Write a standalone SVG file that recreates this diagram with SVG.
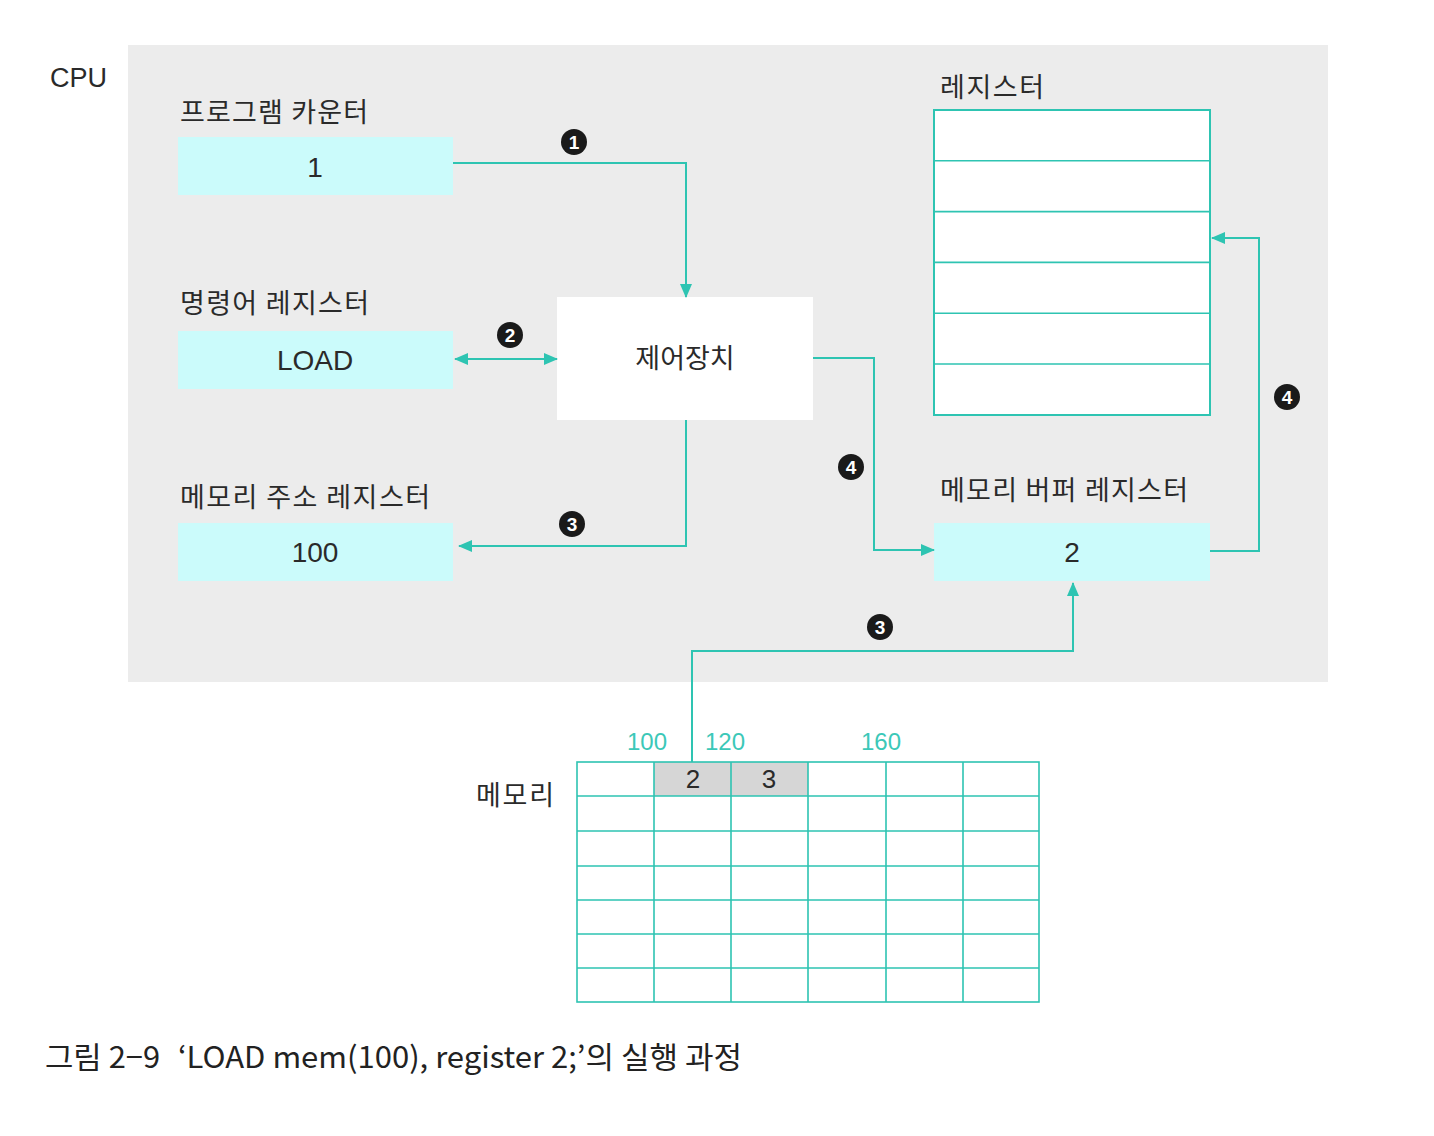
<svg xmlns="http://www.w3.org/2000/svg" width="1434" height="1136" viewBox="0 0 1434 1136">
<defs>
<marker id="ah" viewBox="0 0 14 12" refX="13" refY="6" markerWidth="14" markerHeight="12" markerUnits="userSpaceOnUse" orient="auto-start-reverse">
<path d="M0,0 L14,6 L0,12 Z" fill="#2ec4b2"/>
</marker>
<style>
.lbl{font-family:"Noto Sans CJK KR","Noto Sans",sans-serif;font-size:27px;fill:#2a2a2a}
.val{font-family:"Liberation Sans",Arial,sans-serif;font-size:28px;fill:#2a2a2a;text-anchor:middle}
.reg{fill:#cbfbfb}
.ln{fill:none;stroke:#2ec4b2;stroke-width:2}
.grid{fill:none;stroke:#2ec4b2;stroke-width:1.6}
.num{font-family:"Liberation Sans",Arial,sans-serif;font-size:19px;font-weight:bold;fill:#fff;text-anchor:middle}
.addr{font-family:"Liberation Sans",Arial,sans-serif;font-size:24px;fill:#3cc8b8;text-anchor:middle}
.cap{font-family:"Noto Sans CJK KR","Liberation Sans",sans-serif;font-size:30px;fill:#222}
</style>
</defs>
<rect width="1434" height="1136" fill="#fff"/>
<rect id="cpu" x="128" y="45" width="1200" height="637" fill="#ececec"/>
<text x="50" y="87" font-family="Liberation Sans,Arial,sans-serif" font-size="27" fill="#2a2a2a">CPU</text>

<g id="pc">
<text class="lbl" x="180" y="122" textLength="188">프로그램 카운터</text>
<rect class="reg" x="178" y="137" width="275" height="58"/>
<text class="val" x="315" y="177">1</text>
</g>
<g id="ir">
<text class="lbl" x="180" y="313" textLength="189">명령어 레지스터</text>
<rect class="reg" x="178" y="331" width="275" height="58"/>
<text class="val" x="315" y="370">LOAD</text>
</g>
<g id="mar">
<text class="lbl" x="180" y="507" textLength="250">메모리 주소 레지스터</text>
<rect class="reg" x="178" y="523" width="275" height="58"/>
<text class="val" x="315" y="562">100</text>
</g>
<g id="cu">
<rect x="557" y="297" width="256" height="123" fill="#fff"/>
<text class="lbl" x="685" y="368" text-anchor="middle" font-size="28">제어장치</text>
</g>
<g id="registers">
<text class="lbl" x="940" y="97" textLength="104">레지스터</text>
<rect x="934" y="110" width="276" height="305" fill="#fff" stroke="#2ec4b2" stroke-width="2"/>
<path class="grid" d="M934,160.8H1210M934,211.6H1210M934,262.4H1210M934,313.2H1210M934,364H1210"/>
</g>
<g id="mbr">
<text class="lbl" x="940" y="500" textLength="248">메모리 버퍼 레지스터</text>
<rect class="reg" x="934" y="523" width="276" height="58"/>
<text class="val" x="1072" y="562">2</text>
</g>
<g id="memory">
<text class="lbl" x="476" y="805" textLength="78">메모리</text>
<rect x="654" y="762" width="154" height="34" fill="#d6d6d6"/>
<rect x="577" y="762" width="462" height="240" class="grid"/>
<path class="grid" d="M654,762V1002M731,762V1002M808,762V1002M886,762V1002M963,762V1002M577,796H1039M577,831H1039M577,866H1039M577,900H1039M577,934H1039M577,968H1039"/>
<text x="693" y="788" font-family="Liberation Sans,Arial,sans-serif" font-size="26" fill="#2a2a2a" text-anchor="middle">2</text>
<text x="769" y="788" font-family="Liberation Sans,Arial,sans-serif" font-size="26" fill="#2a2a2a" text-anchor="middle">3</text>
<text class="addr" x="647" y="750">100</text>
<text class="addr" x="725" y="750">120</text>
<text class="addr" x="881" y="750">160</text>
</g>

<g id="connectors">
<path class="ln" d="M453,163H686V297" marker-end="url(#ah)"/>
<path class="ln" d="M455,359H557" marker-start="url(#ah)" marker-end="url(#ah)"/>
<path class="ln" d="M686,420V546H459" marker-end="url(#ah)"/>
<path class="ln" d="M813,358H874V550H934" marker-end="url(#ah)"/>
<path class="ln" d="M1210,551H1259V238H1212" marker-end="url(#ah)"/>
<path class="ln" d="M692,762V651H1073V583" marker-end="url(#ah)"/>
</g>
<g id="steps">
<circle cx="574" cy="142" r="13" fill="#1a1a1a"/><text class="num" x="574" y="149">1</text>
<circle cx="510" cy="335" r="13" fill="#1a1a1a"/><text class="num" x="510" y="342">2</text>
<circle cx="572" cy="524" r="13" fill="#1a1a1a"/><text class="num" x="572" y="531">3</text>
<circle cx="851" cy="467" r="13" fill="#1a1a1a"/><text class="num" x="851" y="474">4</text>
<circle cx="1287" cy="397" r="13" fill="#1a1a1a"/><text class="num" x="1287" y="404">4</text>
<circle cx="880" cy="627" r="13" fill="#1a1a1a"/><text class="num" x="880" y="634">3</text>
</g>
<g id="caption">
<text class="cap" x="45" y="1068" textLength="115" lengthAdjust="spacingAndGlyphs">그림 2−9</text>
<text class="cap" x="178" y="1068" textLength="564" lengthAdjust="spacingAndGlyphs">‘LOAD mem(100), register 2;’의 실행 과정</text>
</g>
</svg>
